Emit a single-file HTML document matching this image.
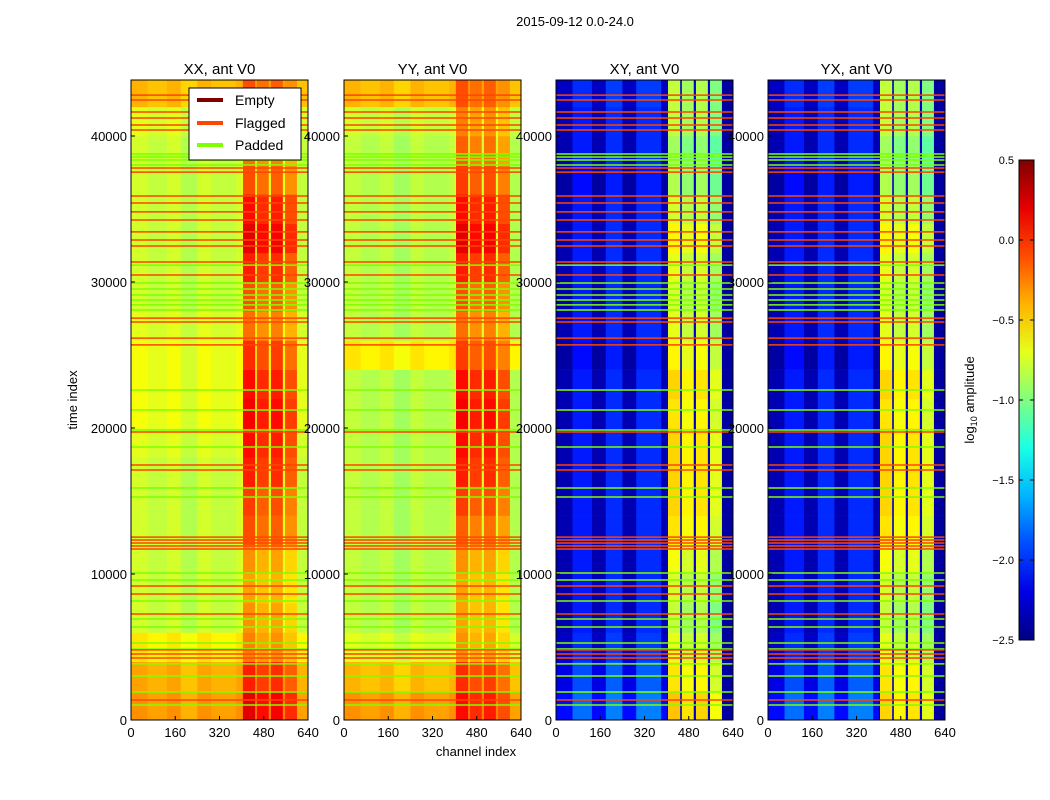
<!DOCTYPE html>
<html><head><meta charset="utf-8"><style>
body{margin:0;background:#fff;}
svg{display:block;font-family:"Liberation Sans",sans-serif;}
</style></head><body>
<svg id="fig" width="1050" height="800" viewBox="0 0 1050 800">
<text x="575" y="26" font-size="13" text-anchor="middle">2015-09-12 0.0-24.0</text>
<text x="476" y="756" font-size="13" text-anchor="middle">channel index</text>
<text x="0" y="0" font-size="13" text-anchor="middle" transform="translate(77,400) rotate(-90)">time index</text>
<g id="panels"></g>
<g id="cbar"></g>
<text x="0" y="0" font-size="13" text-anchor="middle" transform="translate(974,400) rotate(-90)">log<tspan font-size="9" dy="3">10</tspan><tspan dy="-3"> amplitude</tspan></text>
<g>
<rect x="189" y="88" width="112" height="72" fill="#fff" stroke="#000"/>
<line x1="197" y1="100" x2="223" y2="100" stroke="#800000" stroke-width="4"/>
<text x="235" y="105" font-size="14">Empty</text>
<line x1="197" y1="123" x2="223" y2="123" stroke="#ff4500" stroke-width="4"/>
<text x="235" y="128" font-size="14">Flagged</text>
<line x1="197" y1="145" x2="223" y2="145" stroke="#7fff00" stroke-width="4"/>
<text x="235" y="150" font-size="14">Padded</text>
</g>
</svg>
<script>
const panelTitles = ["XX, ant V0","YY, ant V0","XY, ant V0","YX, ant V0"];
const xTicks = [0,160,320,480,640];
const yTicks = [0,10000,20000,30000,40000];
const cbarTicks = [0.5,0.0,-0.5,-1.0,-1.5,-2.0,-2.5];
const flaggedRows = [42800,42470,41640,41230,40750,40410,37810,37530,35890,35410,34800,34250,33430,32880,32470,31370,30480,27530,27260,26160,25690,19730,17470,17120,12530,12330,12120,11920,11710,9180,8630,7260,4800,4520,4250,1370];
const paddedRows = [38770,38560,38360,38010,31160,29930,29520,29110,28770,28430,28080,22600,21230,19860,18700,15890,15270,10070,9590,8150,6920,6370,5270,4860,3840,3010,1920,1030];
// per 2000-time block (bottom to top), log10 amplitude
const leftXX = [-0.35,-0.4,-0.6,-0.8,-0.8,-0.8,-0.8,-0.8,-0.8,-0.75,-0.7,-0.7,-0.7,-0.75,-0.8,-0.8,-0.8,-0.8,-0.8,-0.8,-0.75,-0.45];
const bandXX = [0.1,-0.05,-0.35,-0.4,-0.45,-0.4,-0.2,-0.15,-0.05,0.0,0.05,0.0,-0.1,-0.3,-0.2,-0.05,0.1,0.0,-0.2,-0.3,-0.35,-0.2];
const leftYY = [-0.35,-0.45,-0.75,-0.85,-0.85,-0.85,-0.85,-0.85,-0.85,-0.85,-0.85,-0.85,-0.6,-0.85,-0.85,-0.85,-0.85,-0.85,-0.85,-0.85,-0.8,-0.45];
const bandYY = [0.0,-0.1,-0.4,-0.45,-0.45,-0.4,-0.25,-0.15,-0.05,0.0,0.05,0.0,-0.15,-0.3,-0.2,-0.05,0.1,0.0,-0.15,-0.25,-0.35,-0.2];
const leftXY = [-2.1,-2.2,-2.3,-2.35,-2.35,-2.35,-2.35,-2.35,-2.35,-2.35,-2.35,-2.35,-2.4,-2.35,-2.35,-2.35,-2.35,-2.35,-2.4,-2.35,-2.35,-2.3];
const bandXY = [-0.55,-0.65,-0.8,-0.9,-0.85,-0.75,-0.65,-0.6,-0.6,-0.6,-0.65,-0.6,-0.7,-0.8,-0.85,-0.8,-0.7,-0.85,-0.95,-1.0,-0.9,-0.9];
const leftYX = [-2.1,-2.2,-2.3,-2.35,-2.35,-2.35,-2.35,-2.35,-2.35,-2.35,-2.35,-2.35,-2.4,-2.35,-2.35,-2.35,-2.35,-2.35,-2.4,-2.35,-2.35,-2.3];
const bandYX = [-0.6,-0.65,-0.8,-0.9,-0.85,-0.75,-0.65,-0.6,-0.6,-0.6,-0.65,-0.6,-0.7,-0.8,-0.85,-0.8,-0.7,-0.85,-0.95,-1.0,-0.9,-0.9];
// channel bands [c0,c1,offset] for left region
const leftColsCross = [[0,60,0],[60,130,0.3],[130,180,0],[180,240,0.35],[240,290,0],[290,380,0.35],[380,400,0]];
const leftColsPar = [[0,60,0.05],[60,130,0],[130,180,0.05],[180,240,-0.05],[240,290,0.05],[290,380,0],[380,400,0.05]];
const stripeCols = [[405,448,0.1],[455,497,0],[506,548,0.05],[557,600,-0.1]];
const gapCols = [[400,405],[448,455],[497,506],[548,557]];
const blockSize = 2000;

const NS="http://www.w3.org/2000/svg";
const panelX=[131,344,556,768], PW=177, PT=80, PB=720, TMAX=43836;
const vMin=-2.5, vMax=0.5;
function xs(c,i){return panelX[i]+c/640*PW;}
function ys(t){return PB-t/TMAX*(PB-PT);}
function jet(v){let x=(v-vMin)/(vMax-vMin);x=Math.max(0,Math.min(1,x));
 const f=a=>Math.round(255*Math.max(0,Math.min(1,a)));
 return `rgb(${f(1.5-Math.abs(4*x-3))},${f(1.5-Math.abs(4*x-2))},${f(1.5-Math.abs(4*x-1))})`;}
function mk(tag,attrs,parent){const e=document.createElementNS(NS,tag);for(const k in attrs)e.setAttribute(k,attrs[k]);parent.appendChild(e);return e;}
const panelsG=document.getElementById('panels');
const lefts=[leftXX,leftYY,leftXY,leftYX], bands=[bandXX,bandYY,bandXY,bandYX];
for(let i=0;i<4;i++){
 const g=mk('g',{},panelsG);
 
 
 const cross=i>=2;
 const L=lefts[i],B=bands[i];
 for(let b=0;b<L.length;b++){
  const t0=b*blockSize,t1=Math.min((b+1)*blockSize,TMAX);
  const y0=ys(t1),h=ys(t0)-ys(t1);
  const cols=cross?leftColsCross:leftColsPar;
  const cells=[];
  cols.forEach(c=>cells.push([c[0],c[1],L[b]+c[2]]));
  gapCols.forEach(c=>cells.push([c[0],c[1],cross?-2.3:L[b]+0.1]));
  stripeCols.forEach(c=>cells.push([c[0],c[1],B[b]+c[2]]));
  cells.push([600,640,cross?-2.4:L[b]]);
  cells.forEach(c=>{
   const r=mk('rect',{x:xs(c[0],i),y:y0,width:xs(c[1],i)-xs(c[0],i)+0.3,height:h+0.3,fill:jet(c[2])},g);
   
   
  });
 }
 paddedRows.forEach(t=>{const l=mk('line',{x1:panelX[i],x2:panelX[i]+PW,y1:ys(t),y2:ys(t),stroke:'#7fff00','stroke-width':1.5},g);
  
  });
 flaggedRows.forEach(t=>{const l=mk('line',{x1:panelX[i],x2:panelX[i]+PW,y1:ys(t),y2:ys(t),stroke:'#ff4500','stroke-width':1.5},g);
  
  });
 const fr=mk('rect',{x:panelX[i],y:PT,width:PW,height:PB-PT,fill:'none',stroke:'#000','stroke-width':1},g);
 
 
 const tt=mk('text',{x:panelX[i]+PW/2,y:74,'font-size':15,'text-anchor':'middle'},g);tt.textContent=panelTitles[i];
 
 
 xTicks.forEach(c=>{const x=xs(c,i);
  mk('line',{x1:x,x2:x,y1:PB,y2:PB-4,stroke:'#000'},g);
  const tx=mk('text',{x:x,y:737,'font-size':13,'text-anchor':'middle'},g);tx.textContent=c;
  
  });
 yTicks.forEach(t=>{const y=ys(t);
  mk('line',{x1:panelX[i],x2:panelX[i]+4,y1:y,y2:y,stroke:'#000'},g);
  const ty=mk('text',{x:panelX[i]-4,y:y+5,'font-size':13,'text-anchor':'end'},g);ty.textContent=t;
  
  });
}
const cb=document.getElementById('cbar');
const defs=mk('defs',{},cb);const lg=mk('linearGradient',{id:'jg',x1:0,y1:1,x2:0,y2:0},defs);
for(let k=0;k<=10;k++){mk('stop',{offset:k/10,'stop-color':jet(vMin+k/10*(vMax-vMin))},lg);}
const cr=mk('rect',{x:1019,y:160,width:15,height:480,fill:'url(#jg)',stroke:'#000'},cb);


cbarTicks.forEach(v=>{const y=160+(vMax-v)/(vMax-vMin)*480;
 mk('line',{x1:1019,x2:1023,y1:y,y2:y,stroke:'#000'},cb);
 mk('line',{x1:1030,x2:1034,y1:y,y2:y,stroke:'#000'},cb);
 const t=mk('text',{x:1014,y:y+4,'font-size':11,'text-anchor':'end'},cb);t.textContent=(v<0?'\u2212':'')+Math.abs(v).toFixed(1);
 
 });
</script>
</body></html>
